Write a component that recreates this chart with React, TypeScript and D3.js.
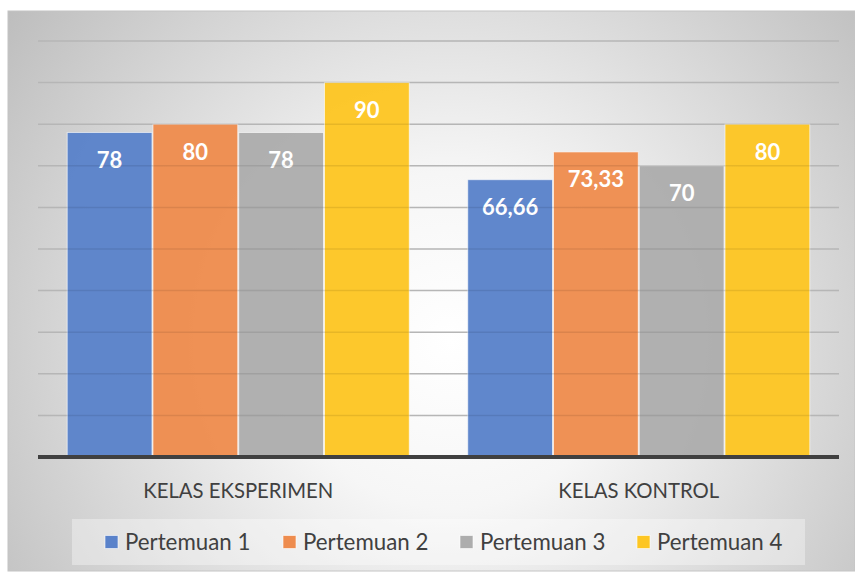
import React from "react";
import * as d3 from "d3";

const categories = ["KELAS EKSPERIMEN", "KELAS KONTROL"];
const seriesNames = ["Pertemuan 1", "Pertemuan 2", "Pertemuan 3", "Pertemuan 4"];
const seriesColors = ["#5a82ca", "#ee8c4e", "#adadad", "#fdc623"];
const pertemuan1 = [78, 66.66];
const pertemuan2 = [80, 73.33];
const pertemuan3 = [78, 70];
const pertemuan4 = [90, 80];
const labels1 = ["78", "66,66"];
const labels2 = ["80", "73,33"];
const labels3 = ["78", "70"];
const labels4 = ["90", "80"];
const yTicks = [0, 10, 20, 30, 40, 50, 60, 70, 80, 90, 100];

const series = [pertemuan1, pertemuan2, pertemuan3, pertemuan4];
const seriesLabels = [labels1, labels2, labels3, labels4];

export default function App() {
  const W = 855, H = 573;
  const plotL = 38, plotR = 839, plotT = 41, plotB = 457;
  const font = "Lato, 'Open Sans', sans-serif";

  const x0 = d3.scaleBand<string>().domain(categories).range([plotL, plotR]).paddingInner(0.1435).paddingOuter(0.0717);
  const x1 = d3.scaleBand<string>().domain(seriesNames).range([0, x0.bandwidth()]).padding(0);
  const y = d3.scaleLinear().domain([0, 100]).range([plotB, plotT]);

  const legendX = [105, 283, 460, 637];

  return (
    <svg width={W} height={H} style={{ position: "absolute", left: 0, top: 0 }}>
      <defs>
        <radialGradient id="bg" gradientUnits="userSpaceOnUse" cx={450} cy={340} r={560} fx={450} fy={340}>
          <stop offset="0" stopColor="#ffffff" />
          <stop offset="0.3" stopColor="#f6f6f6" />
          <stop offset="1" stopColor="#bcbcbc" />
        </radialGradient>
      </defs>
      <rect x={0} y={0} width={W} height={H} fill="#ffffff" />
      <rect x={8} y={11} width={W - 8} height={H - 13} fill="url(#bg)" stroke="#c4c4c4" strokeWidth={1} />
      {yTicks.slice(1).map((t) => (
        <line key={t} x1={plotL} x2={plotR} y1={y(t)} y2={y(t)} stroke="#c6c6c6" strokeWidth={1.5} />
      ))}
      {categories.map((c, ci) => (
        <g key={c}>
          {seriesNames.map((s, si) => {
            const v = series[si][ci];
            const bx = (x0(c) as number) + (x1(s) as number);
            const bw = x1.bandwidth();
            return (
              <g key={s}>
                <rect x={bx + 0.5} y={y(v)} width={bw - 1} height={plotB - y(v)} fill={seriesColors[si]} fillOpacity={0.96} stroke="#ffffff" strokeOpacity={0.6} strokeWidth={1} />
                <text x={bx + bw / 2} y={y(v) + 35.5} textAnchor="middle" fill="#ffffff" fontFamily={font} fontWeight={700} fontSize={22}>
                  {seriesLabels[si][ci]}
                </text>
              </g>
            );
          })}
        </g>
      ))}
      {yTicks.slice(1).map((t) => (
        <line key={"o" + t} x1={plotL} x2={plotR} y1={y(t)} y2={y(t)} stroke="#000000" strokeOpacity={0.08} strokeWidth={1.5} />
      ))}
      <line x1={plotL} x2={plotR} y1={plotB} y2={plotB} stroke="#404040" strokeWidth={4} />
      {categories.map((c) => (
        <text key={c} x={(x0(c) as number) + x0.bandwidth() / 2} y={498} textAnchor="middle" fill="#404040" fontFamily={font} fontSize={20.3}>
          {c}
        </text>
      ))}
      <rect x={72} y={519} width={733} height={46} fill="#ffffff" fillOpacity={0.35} />
      {seriesNames.map((s, si) => (
        <g key={s}>
          <rect x={legendX[si]} y={535.5} width={13} height={13} fill={seriesColors[si]} stroke="#ffffff" strokeOpacity={0.6} strokeWidth={1} />
          <text x={legendX[si] + 20} y={550} fill="#404040" fontFamily={font} fontSize={22.3}>
            {s}
          </text>
        </g>
      ))}
    </svg>
  );
}
